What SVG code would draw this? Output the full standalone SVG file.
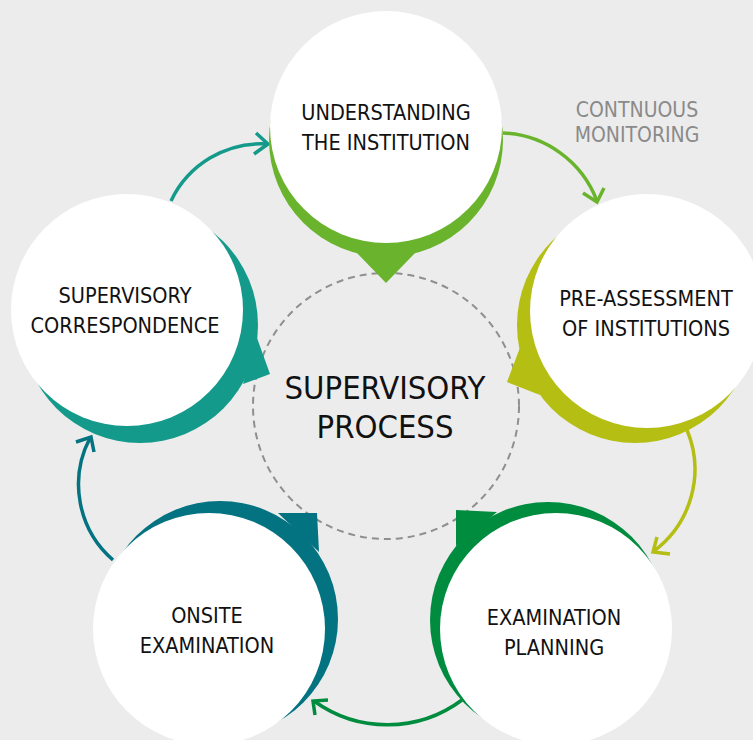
<svg xmlns="http://www.w3.org/2000/svg" width="753" height="740" viewBox="0 0 753 740">
<style>
.lbl{font-family:"DejaVu Sans Condensed","DejaVu Sans",sans-serif;font-stretch:condensed;font-size:21.5px;fill:#111;text-anchor:middle}
.ctr{font-family:"DejaVu Sans Condensed","DejaVu Sans",sans-serif;font-stretch:condensed;font-size:32.5px;fill:#111;text-anchor:middle}
.note{font-family:"DejaVu Sans Condensed","DejaVu Sans",sans-serif;font-stretch:condensed;font-size:21px;fill:#8a8a8a;text-anchor:middle}
.con{fill:none;stroke-width:3.5;stroke-linecap:butt;stroke-linejoin:miter}
.w{fill:#ffffff}
</style>
<rect width="753" height="740" fill="#ececec"/>
<g id="center">
<circle cx="386" cy="406" r="133" fill="none" stroke="#8f8f8f" stroke-width="2" stroke-dasharray="7 5"/>
<text class="ctr" x="385" y="399">SUPERVISORY</text>
<text class="ctr" x="385" y="438">PROCESS</text>
</g>
<g id="connectors">
<path class="con" stroke="#149a8b" d="M171,201 A100,100 0 0 1 267,144"/>
<polyline class="con" stroke="#149a8b" points="256,133 268,144 254,154"/>
<path class="con" stroke="#6ab42d" d="M503,133 A105,105 0 0 1 597,201"/>
<polyline class="con" stroke="#6ab42d" points="583,193 597,202 604,188"/>
<path class="con" stroke="#b5be12" d="M687,430 A102,102 0 0 1 654,551"/>
<polyline class="con" stroke="#b5be12" points="657,537 653,552 670,554"/>
<path class="con" stroke="#008c3f" d="M462,700 A125,125 0 0 1 314,701"/>
<polyline class="con" stroke="#008c3f" points="328,700 313,701 315,715"/>
<path class="con" stroke="#037382" d="M113,560 A100,100 0 0 1 90,438"/>
<polyline class="con" stroke="#037382" points="76,442 91,437 94,452"/>
</g>
<g id="note">
<text class="note" x="637" y="117">CONTNUOUS</text>
<text class="note" x="637" y="142">MONITORING</text>
</g>
<g id="node-understanding">
<circle cx="386" cy="140" r="117" fill="#6ab42d"/>
<polygon points="356,252 386,283 416,252" fill="#6ab42d"/>
<circle class="w" cx="386" cy="127" r="116"/>
<text class="lbl" x="386" y="120">UNDERSTANDING</text>
<text class="lbl" x="386" y="150">THE INSTITUTION</text>
</g>
<g id="node-preassessment">
<circle cx="635" cy="325" r="118" fill="#b5be12"/>
<polygon points="521,345 507,382 540,395" fill="#b5be12"/>
<circle class="w" cx="647" cy="311" r="117"/>
<text class="lbl" x="646" y="306">PRE-ASSESSMENT</text>
<text class="lbl" x="646" y="336">OF INSTITUTIONS</text>
</g>
<g id="node-planning">
<circle cx="548" cy="620" r="118" fill="#008c3f"/>
<polygon points="497,512 456,510 456,546" fill="#008c3f"/>
<circle class="w" cx="556" cy="629" r="116"/>
<text class="lbl" x="554" y="625">EXAMINATION</text>
<text class="lbl" x="554" y="655">PLANNING</text>
</g>
<g id="node-onsite">
<circle cx="220" cy="619" r="118" fill="#037382"/>
<polygon points="278,513 317,513 319,552" fill="#037382"/>
<circle class="w" cx="209" cy="629" r="116"/>
<text class="lbl" x="207" y="623">ONSITE</text>
<text class="lbl" x="207" y="653">EXAMINATION</text>
</g>
<g id="node-correspondence">
<circle cx="140" cy="325" r="118" fill="#149a8b"/>
<polygon points="257,338 270,374 243,384" fill="#149a8b"/>
<circle class="w" cx="127" cy="310" r="116"/>
<text class="lbl" x="125" y="303">SUPERVISORY</text>
<text class="lbl" x="125" y="333">CORRESPONDENCE</text>
</g>
</svg>
